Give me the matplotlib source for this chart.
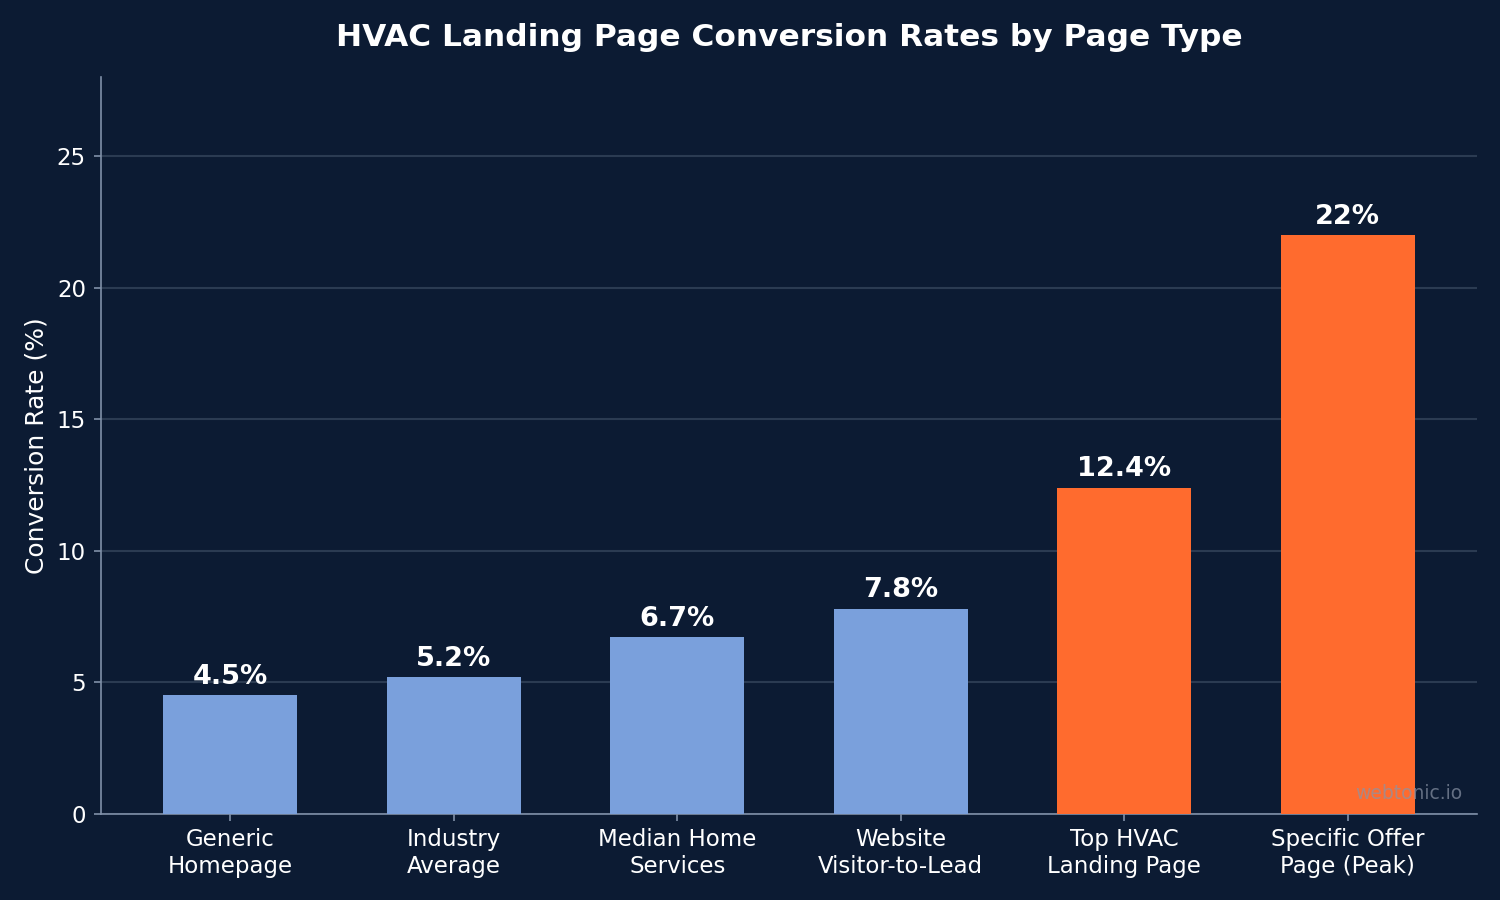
import matplotlib.pyplot as plt

# Data
pages = ["Generic\nHomepage", "Industry\nAverage", "Median Home\nServices",
         "Website\nVisitor-to-Lead", "Top HVAC\nLanding Page", "Specific Offer\nPage (Peak)"]
rates = [4.5, 5.2, 6.7, 7.8, 12.4, 22]
labels = ["4.5%", "5.2%", "6.7%", "7.8%", "12.4%", "22%"]
highlight = [False, False, False, False, True, True]

BG = "#0c1b33"
BLUE = "#7aa0dc"
ORANGE = "#ff6b2e"
GRID = "#2b3b52"
SPINE = "#8090a8"

fig, ax = plt.subplots(figsize=(10, 6), dpi=150)
fig.patch.set_facecolor(BG)
ax.set_facecolor(BG)

colors = [ORANGE if h else BLUE for h in highlight]
x = range(len(pages))
bars = ax.bar(x, rates, width=0.6, color=colors, edgecolor="none", zorder=3)

for bar, lab in zip(bars, labels):
    ax.text(bar.get_x() + bar.get_width() / 2, bar.get_height() + 0.2, lab,
            ha="center", va="bottom", fontsize=13, fontweight="bold", color="white", zorder=4)

ax.set_xticks(list(x))
ax.set_xticklabels(pages, fontsize=11, color="white")
ax.set_ylim(0, 28)
ax.set_yticks([0, 5, 10, 15, 20, 25])
ax.tick_params(axis="y", labelsize=11)
ax.tick_params(axis="x", colors=SPINE, labelcolor="white")
ax.tick_params(axis="y", colors=SPINE, labelcolor="white")
ax.set_ylabel("Conversion Rate (%)", fontsize=12, color="white")
ax.set_title("HVAC Landing Page Conversion Rates by Page Type", fontsize=15,
             fontweight="bold", color="white", pad=15)

ax.yaxis.grid(True, color=GRID, linewidth=1.0, zorder=0)
ax.set_axisbelow(True)
ax.spines[["top", "right"]].set_visible(False)
ax.spines[["bottom", "left"]].set_color(SPINE)

ax.text(0.989, 0.015, "webtonic.io", transform=ax.transAxes, ha="right", va="bottom",
        fontsize=9, color="#8a94a6", alpha=0.7, zorder=5)

fig.subplots_adjust(left=0.067, right=0.985, top=0.914, bottom=0.096)
fig.savefig("out.png", dpi=150, facecolor=fig.get_facecolor())
